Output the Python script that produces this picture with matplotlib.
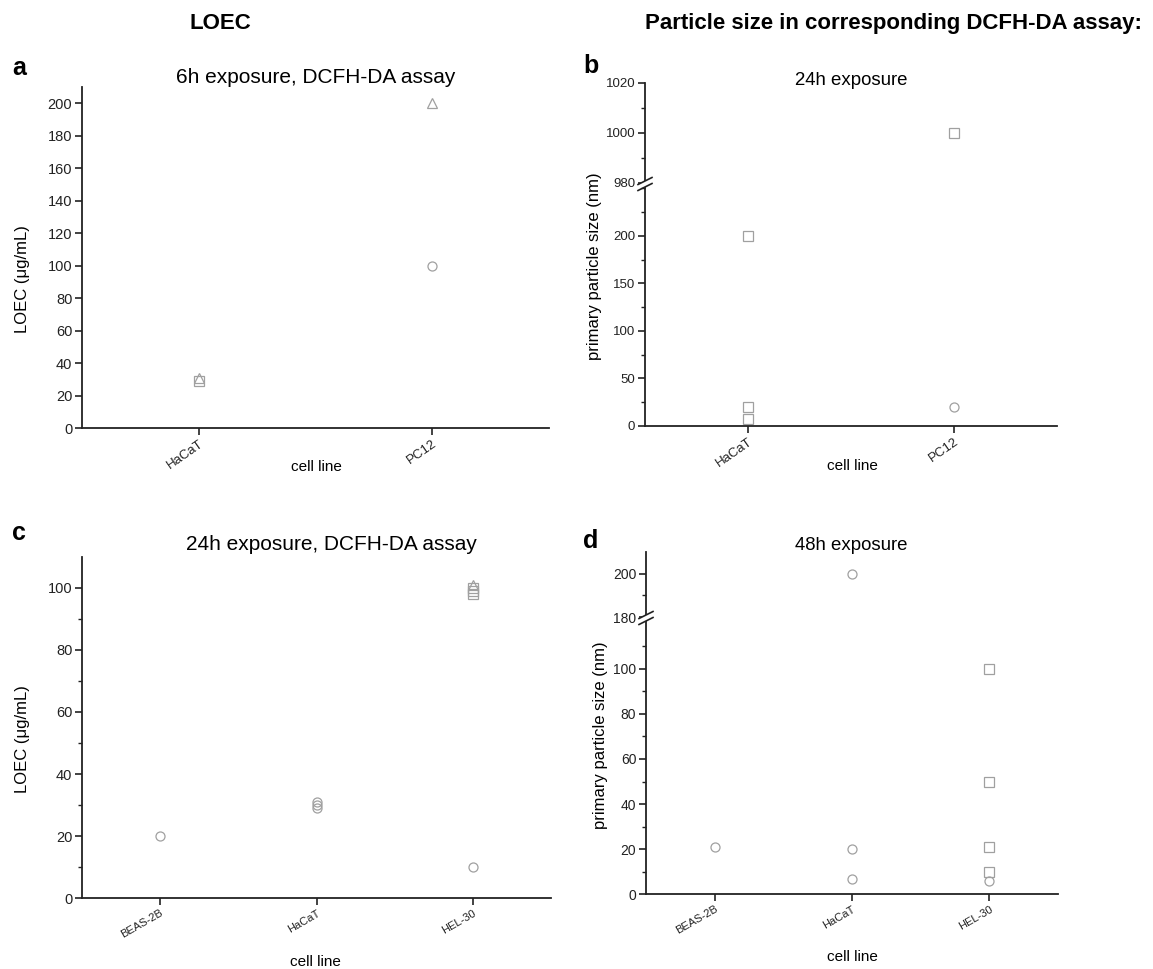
import matplotlib
matplotlib.use('Agg')
import matplotlib.pyplot as plt
from matplotlib.lines import Line2D
from matplotlib.patches import Rectangle

plt.rcParams['font.family'] = ['Liberation Sans', 'DejaVu Sans']

W, H = 1153, 969

# categories
cells_ab = ['HaCaT', 'PC12']
cells_cd = ['BEAS-2B', 'HaCaT', 'HEL-30']

# a: LOEC, 6h exposure
a_circle_cell = ['PC12']
a_circle_val = [100]
a_square_cell = ['HaCaT']
a_square_val = [29]
a_triangle_cell = ['HaCaT', 'PC12']
a_triangle_val = [31, 200]

# b: particle size, 24h exposure
b_circle_cell = ['PC12']
b_circle_val = [20]
b_square_cell = ['HaCaT', 'HaCaT', 'HaCaT', 'PC12']
b_square_val = [200, 20, 7, 1000]

# c: LOEC, 24h exposure
c_circle_cell = ['BEAS-2B', 'HaCaT', 'HaCaT', 'HaCaT', 'HEL-30']
c_circle_val = [20, 31, 30, 29, 10]
c_square_cell = ['HEL-30', 'HEL-30', 'HEL-30']
c_square_val = [100, 99, 98]
c_triangle_cell = ['HEL-30']
c_triangle_val = [101]

# d: particle size, 48h exposure
d_circle_cell = ['BEAS-2B', 'HaCaT', 'HaCaT', 'HaCaT', 'HEL-30']
d_circle_val = [21, 200, 20, 7, 6]
d_square_cell = ['HEL-30', 'HEL-30', 'HEL-30', 'HEL-30']
d_square_val = [100, 50, 21, 10]

GRAY = '#a0a0a0'
INK = '#222222'


def fx(px):
    return px / W


def fy(py):
    return 1 - py / H


def add_ax(left, right, top, bottom):
    return fig.add_axes([fx(left), fy(bottom), fx(right) - fx(left), (bottom - top) / H])


def style(ax, ysize, show_bottom=True):
    ax.spines['right'].set_visible(False)
    ax.spines['top'].set_visible(False)
    ax.spines['bottom'].set_visible(show_bottom)
    for s in ['left', 'bottom']:
        ax.spines[s].set_linewidth(1.3)
        ax.spines[s].set_color(INK)
    ax.tick_params(direction='out', length=5, width=1.2, colors=INK, labelsize=ysize, pad=2)
    ax.tick_params(which='minor', direction='out', length=3, width=1.0, colors=INK)
    ax.set_facecolor('none')


def scatter(axes, cells, names, vals, marker):
    x = [cells.index(n) + 1 for n in names]
    for ax in axes:
        ax.plot(x, vals, ls='none', marker=marker, mfc='none', mec=GRAY, ms=6.5, mew=0.9)


def xcats(ax, cells, size, rot):
    ax.set_xlim(0.5, len(cells) + 0.5)
    ax.set_xticks(range(1, len(cells) + 1))
    ax.set_xticklabels(cells, rotation=rot, ha='right', va='top', rotation_mode='anchor', fontsize=size)


def break_mark(xp, yp):
    fig.add_artist(Rectangle((fx(xp - 4), fy(yp + 3)), 8 / W, 6 / H, transform=fig.transFigure,
                             facecolor='white', edgecolor='none', zorder=5))
    for dy in (-3, 3):
        fig.add_artist(Line2D([fx(xp - 7), fx(xp + 7)], [fy(yp + dy + 3.5), fy(yp + dy - 3.5)],
                              transform=fig.transFigure, color=INK, lw=1.2, zorder=6))


fig = plt.figure(figsize=(W / 100, H / 100), dpi=100)

# ---- panel a
ax_a = add_ax(82, 549, 87, 428)
style(ax_a, 10.5)
scatter([ax_a], cells_ab, a_circle_cell, a_circle_val, 'o')
scatter([ax_a], cells_ab, a_square_cell, a_square_val, 's')
scatter([ax_a], cells_ab, a_triangle_cell, a_triangle_val, '^')
ax_a.set_ylim(0, 210)
ax_a.set_yticks(range(0, 201, 20))
xcats(ax_a, cells_ab, 9.5, 35)

# ---- panel b (broken y axis)
ax_bu = add_ax(645, 1057, 82.7, 182.7)
ax_bl = add_ax(645, 1057, 182.7, 425.7)
style(ax_bu, 9.5, show_bottom=False)
style(ax_bl, 9.5)
scatter([ax_bu, ax_bl], cells_ab, b_circle_cell, b_circle_val, 'o')
scatter([ax_bu, ax_bl], cells_ab, b_square_cell, b_square_val, 's')
ax_bu.set_ylim(980, 1020)
ax_bu.set_yticks([980, 1000, 1020])
ax_bu.set_yticks([990, 1010], minor=True)
ax_bu.set_xlim(0.5, 2.5)
ax_bu.set_xticks([])
ax_bl.set_ylim(0, 256)
ax_bl.set_yticks([0, 50, 100, 150, 200])
ax_bl.set_yticks([25, 75, 125, 175, 225, 250], minor=True)
xcats(ax_bl, cells_ab, 9.5, 35)
break_mark(645, 184)

# ---- panel c
ax_c = add_ax(82, 551, 556.7, 898.3)
style(ax_c, 10.5)
scatter([ax_c], cells_cd, c_circle_cell, c_circle_val, 'o')
scatter([ax_c], cells_cd, c_square_cell, c_square_val, 's')
scatter([ax_c], cells_cd, c_triangle_cell, c_triangle_val, '^')
ax_c.set_ylim(0, 110)
ax_c.set_yticks(range(0, 101, 20))
ax_c.set_yticks(range(10, 100, 20), minor=True)
xcats(ax_c, cells_cd, 8, 30)

# ---- panel d (broken y axis)
ax_du = add_ax(646, 1058, 551.7, 617.3)
ax_dl = add_ax(646, 1058, 617.3, 894.3)
style(ax_du, 10, show_bottom=False)
style(ax_dl, 10)
scatter([ax_du, ax_dl], cells_cd, d_circle_cell, d_circle_val, 'o')
scatter([ax_du, ax_dl], cells_cd, d_square_cell, d_square_val, 's')
ax_du.set_ylim(180, 210)
ax_du.set_yticks([180, 200])
ax_du.set_yticks([190], minor=True)
ax_du.set_xlim(0.5, 3.5)
ax_du.set_xticks([])
ax_dl.set_ylim(0, 122.8)
ax_dl.set_yticks(range(0, 101, 20))
ax_dl.set_yticks(range(10, 121, 20), minor=True)
xcats(ax_dl, cells_cd, 8, 30)
break_mark(646, 618)

# ---- texts
fig.text(fx(220), fy(29), 'LOEC', ha='center', va='baseline', fontsize=16, fontweight='bold')
fig.text(fx(645), fy(29), 'Particle size in corresponding DCFH-DA assay:', ha='left',
         va='baseline', fontsize=16, fontweight='bold')

for lab, xp, yp in [('a', 12, 75), ('b', 583, 73), ('c', 12, 540), ('d', 583, 548)]:
    fig.text(fx(xp), fy(yp), lab, ha='left', va='baseline', fontsize=18, fontweight='bold')

fig.text(fx(316), fy(83), '6h exposure, DCFH-DA assay', ha='center', va='baseline', fontsize=15)
fig.text(fx(851), fy(85), '24h exposure', ha='center', va='baseline', fontsize=13.4)
fig.text(fx(331), fy(550), '24h exposure, DCFH-DA assay', ha='center', va='baseline', fontsize=15)
fig.text(fx(851), fy(550), '48h exposure', ha='center', va='baseline', fontsize=13.4)

for txt, xp, yp in [('LOEC (\u03bcg/mL)', 23, 279), ('primary particle size (nm)', 594, 266),
                    ('LOEC (\u03bcg/mL)', 23, 739), ('primary particle size (nm)', 601, 735)]:
    fig.text(fx(xp), fy(yp), txt, ha='center', va='center', rotation=90, fontsize=12)

for xp, yp in [(316, 467), (852, 466), (315, 962), (852, 957)]:
    fig.text(fx(xp), fy(yp), 'cell line', ha='center', va='center', fontsize=11)

fig.savefig('out.png', dpi=100)
